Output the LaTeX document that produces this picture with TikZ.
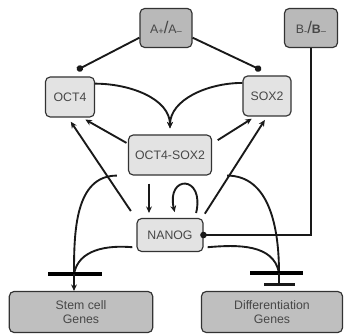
\documentclass[tikz,border=0pt]{standalone}
\usepackage{fontspec}
\setmainfont{Liberation Sans}
\usepackage{tikz}
\usetikzlibrary{positioning, arrows.meta, calc}
\tikzset{
  gbox/.style={draw=black!80, line width=1pt, rounded corners=4pt, align=center,
    font=\fontsize{10.5}{12}\selectfont, text=black!72, inner sep=1pt},
  signalbox/.style={gbox, fill=gray!55, minimum width=15.6mm, minimum height=11.7mm},
  protbox/.style={gbox, fill=gray!22},
  genebox/.style={gbox, fill=gray!50, minimum width=43mm, minimum height=12.3mm},
  arr/.style={-{Stealth[length=5.5pt, width=5pt]}, line width=1.6pt, black!90},
  dotline/.style={-{Circle[length=5.5pt]}, line width=1.6pt, black!90},
  plain/.style={line width=1.6pt, black!90},
  inhibit/.style={-{Bar[width=9.3mm, line width=2.2pt]}, line width=1.8pt, black!90},
  barline/.style={line width=2.6pt, black},
}
\newcommand{\lo}[1]{\raisebox{-1.5pt}{\footnotesize #1}}
\begin{document}
\begin{tikzpicture}[x=0.3mm, y=0.3mm]
  \useasboundingbox (0,0) rectangle (345,335);
  % signals
  \node[signalbox] (A) at (166,307) {A\lo{+}{\Large/}A\lo{--}};
  \node[signalbox, minimum width=15.9mm] (B) at (311,307) {B\lo{-}{\Large/}\textbf{B}\lo{--}};
  % core factors
  \node[protbox, minimum width=14.7mm, minimum height=12mm] (OCT4) at (70,238) {OCT4};
  \node[protbox, minimum width=14.4mm, minimum height=12mm] (SOX2) at (267,239) {SOX2};
  \node[protbox, minimum width=24.9mm, minimum height=12mm] (OS) at (170,180) {OCT4-SOX2};
  \node[protbox, minimum width=19.8mm, minimum height=9.9mm] (NANOG) at (170,100) {NANOG};
  % target genes
  \node[genebox] (stem) at (81,23) {Stem cell\\Genes};
  \node[genebox, minimum width=42.3mm] (diff) at (272,23) {Differentiation\\Genes};
  \coordinate (sbar) at (74,61);
  \coordinate (dbar) at (279,62);
  \coordinate (dstop) at (279,49);
  \coordinate (octin) at (77,265);
  \coordinate (soxin) at (261,265);

  % signal inputs
  \draw[dotline] (A.200) -- (octin);
  \draw[dotline] (A.-20) -- (soxin);
  \draw[dotline, line width=2pt, shorten >=-1mm] (B.south) |- (NANOG.east);

  % heterodimer formation
  \draw[arr, shorten >=1.8mm] (OCT4.28) to[out=0, in=90] (OS.north);
  \draw[arr, shorten >=1.8mm] (SOX2.152) to[out=180, in=90] (OS.north);

  % feedback
  \draw[arr, shorten <=0.5mm, shorten >=1.2mm] (OS.165) -- (OCT4.-60);
  \draw[arr, shorten <=2mm, shorten >=1.2mm] (OS.15) -- (SOX2.240);
  \draw[arr, shorten <=2.4mm, shorten >=1.5mm] ([xshift=-6.3mm]OS.south) -- ([xshift=-6.3mm]NANOG.north);
  \draw[arr, shorten <=1.5mm, shorten >=1.8mm] ([xshift=7.5mm]NANOG.north)
    .. controls +(3mm,13mm) and +(-3mm,13mm) .. ([xshift=1.8mm]NANOG.north);
  \draw[arr, shorten <=3mm, shorten >=1.5mm] (NANOG.155) -- ([xshift=-0.6mm]OCT4.south);
  \draw[arr, shorten <=1.5mm, shorten >=1.2mm] (NANOG.28) -- (SOX2.south);

  % gene regulation
  \draw[plain] ([xshift=-3.3mm]OS.south west) to[out=180, in=90] (sbar);
  \draw[plain] ([xshift=-1.2mm]NANOG.-160) to[out=175, in=80] (sbar);
  \draw[plain] ([xshift=4.5mm]OS.south east) to[out=0, in=90] (dbar);
  \draw[plain] ([xshift=1.2mm]NANOG.-20) to[out=5, in=100] (dbar);
  \draw[barline] (48,61) -- (102,61);
  \draw[barline] (250,62) -- (303,62);
  \draw[arr] (sbar) -- (sbar |- stem.north);
  \draw[inhibit] (dbar) -- (dstop);
\end{tikzpicture}
\end{document}
